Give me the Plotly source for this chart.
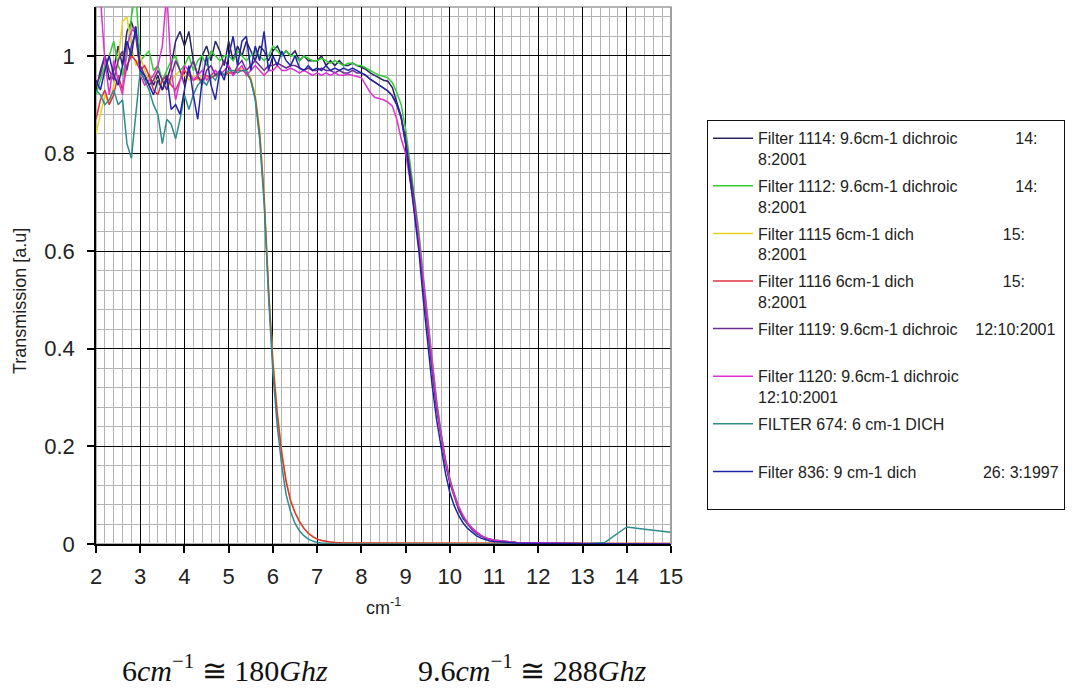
import plotly.graph_objects as go

# ---------------- data ----------------
wavenumber = [
    2.0, 2.1, 2.2, 2.3, 2.4, 2.5, 2.6, 2.7, 2.8, 2.9,
    3.0, 3.1, 3.2, 3.3, 3.4, 3.5, 3.6, 3.7, 3.8, 3.9,
    4.0, 4.1, 4.2, 4.3, 4.4, 4.5, 4.6, 4.7, 4.8, 4.9,
    5.0, 5.1, 5.2, 5.3, 5.4, 5.5, 5.6, 5.7, 5.8, 5.9,
    6.0, 6.1, 6.2, 6.3, 6.4, 6.5, 6.6, 6.7, 6.8, 6.9,
    7.0, 7.1, 7.2, 7.3, 7.4, 7.5, 7.6, 7.7, 7.8, 7.9,
    8.0, 8.1, 8.2, 8.3, 8.4, 8.5, 8.6, 8.7, 8.8, 8.9,
    9.0, 9.1, 9.2, 9.3, 9.4, 9.5, 9.6, 9.7, 9.8, 9.9,
    10.0, 10.1, 10.2, 10.3, 10.4, 10.5, 10.6, 10.7, 10.8, 10.9,
    11.0, 11.5, 12.0, 12.5, 13.0, 13.5, 14.0, 14.5, 15.0]

filter_1114 = [
    0.93, 0.97, 1.00, 0.95, 0.97, 1.02, 0.98, 1.05, 1.07, 1.04,
    0.97, 0.95, 0.96, 0.94, 0.96, 0.93, 0.95, 0.98, 1.03, 1.05,
    1.02, 1.05, 0.99, 0.96, 1.00, 1.02, 0.99, 1.03, 1.01, 0.98,
    1.03, 0.99, 1.02, 1.00, 1.03, 1.01, 0.99, 1.02, 1.01, 0.99,
    1.01, 1.02, 1.00, 1.01, 1.00, 1.01, 0.99, 1.00, 0.99, 0.99,
    0.99, 1.00, 0.98, 0.99, 0.98, 0.99, 0.98, 0.98, 0.985, 0.98,
    0.977, 0.972, 0.965, 0.96, 0.955, 0.95, 0.948, 0.935, 0.905, 0.876,
    0.82, 0.755, 0.69, 0.615, 0.53, 0.44, 0.36, 0.28, 0.22, 0.165,
    0.125, 0.095, 0.07, 0.052, 0.04, 0.03, 0.022, 0.016, 0.012, 0.009,
    0.007, 0.003, 0.002, 0.001, 0.001, 0.0, 0.0, 0.0, 0.0]

filter_1112 = [
    0.92, 0.95, 0.98, 1.00, 1.03, 0.98, 0.96, 1.00, 1.08, 1.13,
    0.99, 1.00, 1.01, 0.97, 0.98, 0.95, 0.97, 0.99, 1.00, 0.97,
    0.98, 1.00, 0.97, 0.99, 1.00, 0.98, 1.01, 1.00, 0.99, 1.00,
    1.00, 0.99, 1.01, 1.00, 0.99, 1.00, 1.01, 1.00, 0.99, 1.00,
    1.02, 1.01, 1.00, 1.01, 1.00, 1.00, 0.99, 1.00, 0.995, 0.99,
    0.99, 0.995, 0.99, 0.985, 0.99, 0.985, 0.98, 0.985, 0.985, 0.98,
    0.98, 0.975, 0.97, 0.965, 0.96, 0.958, 0.955, 0.945, 0.925, 0.9,
    0.85, 0.78, 0.715, 0.64, 0.55, 0.46, 0.37, 0.295, 0.23, 0.175,
    0.135, 0.1, 0.075, 0.056, 0.042, 0.032, 0.024, 0.017, 0.013, 0.01,
    0.008, 0.003, 0.002, 0.001, 0.001, 0.0, 0.0, 0.0, 0.0]

filter_1115 = [
    0.84, 0.88, 0.92, 0.90, 0.94, 0.99, 1.07, 1.08, 1.02, 0.98,
    1.00, 0.97, 0.95, 0.96, 0.94, 0.95, 0.93, 0.95, 0.96, 0.97,
    0.96, 0.95, 0.96, 0.95, 0.96, 0.955, 0.96, 0.965, 0.96, 0.965,
    0.965, 0.97, 0.97, 0.975, 0.97, 0.955, 0.92, 0.85, 0.72, 0.53,
    0.38, 0.27, 0.19, 0.13, 0.09, 0.065, 0.047, 0.033, 0.022, 0.015,
    0.01, 0.007, 0.005, 0.004, 0.003, 0.002, 0.002, 0.002, 0.002, 0.002,
    0.002, 0.002, 0.002, 0.002, 0.002, 0.002, 0.002, 0.002, 0.002, 0.002,
    0.002, 0.002, 0.002, 0.002, 0.002, 0.002, 0.002, 0.002, 0.002, 0.002,
    0.002, 0.002, 0.002, 0.002, 0.002, 0.002, 0.002, 0.002, 0.002, 0.002,
    0.002, 0.001, 0.001, 0.001, 0.001, 0.001, 0.001, 0.001, 0.001]

filter_1116 = [
    0.87, 0.91, 0.93, 0.90, 0.92, 0.96, 0.93, 0.98, 1.00, 0.99,
    0.97, 0.98, 0.96, 0.93, 0.92, 0.95, 0.96, 0.94, 0.93, 0.95,
    0.97, 0.96, 0.95, 0.955, 0.95, 0.96, 0.955, 0.96, 0.965, 0.96,
    0.965, 0.965, 0.97, 0.97, 0.965, 0.95, 0.915, 0.84, 0.71, 0.52,
    0.37, 0.265, 0.185, 0.127, 0.088, 0.064, 0.046, 0.032, 0.022, 0.015,
    0.01, 0.007, 0.005, 0.004, 0.003, 0.002, 0.002, 0.002, 0.002, 0.002,
    0.002, 0.002, 0.002, 0.002, 0.002, 0.002, 0.002, 0.002, 0.002, 0.002,
    0.002, 0.002, 0.002, 0.002, 0.002, 0.002, 0.002, 0.002, 0.002, 0.002,
    0.002, 0.002, 0.002, 0.002, 0.002, 0.002, 0.002, 0.002, 0.002, 0.002,
    0.002, 0.001, 0.001, 0.001, 0.001, 0.001, 0.001, 0.001, 0.001]

filter_1119 = [
    0.94, 0.96, 1.00, 0.97, 0.95, 0.99, 1.01, 0.97, 1.02, 1.05,
    0.98, 0.96, 0.94, 0.95, 0.97, 0.95, 0.93, 0.96, 0.99, 0.97,
    0.94, 0.97, 0.99, 0.96, 0.94, 0.97, 0.98, 0.96, 0.97, 0.99,
    0.98, 0.96, 0.98, 0.99, 0.97, 0.98, 0.99, 0.98, 0.97, 0.98,
    0.98, 0.985, 0.98, 0.975, 0.98, 0.98, 0.975, 0.97, 0.975, 0.97,
    0.97, 0.975, 0.97, 0.97, 0.965, 0.97, 0.965, 0.965, 0.97, 0.965,
    0.965, 0.96, 0.952, 0.946, 0.94, 0.934, 0.928, 0.918, 0.9, 0.875,
    0.83, 0.765, 0.70, 0.62, 0.53, 0.44, 0.355, 0.28, 0.22, 0.17,
    0.13, 0.1, 0.075, 0.056, 0.042, 0.031, 0.023, 0.017, 0.012, 0.009,
    0.007, 0.003, 0.002, 0.001, 0.001, 0.0, 0.0, 0.0, 0.0]

filter_1120 = [
    1.15, 1.12, 0.99, 0.92, 0.99, 0.95, 0.92, 1.02, 1.05, 1.06,
    0.96, 0.94, 0.95, 0.96, 0.98, 1.02, 1.13, 0.97, 0.91, 0.95,
    0.98, 0.97, 0.95, 0.96, 0.97, 0.95, 0.96, 0.97, 0.96, 0.97,
    0.98, 0.96, 0.97, 0.98, 0.96, 0.97, 0.98, 0.97, 0.96, 0.97,
    0.97, 0.98, 0.97, 0.97, 0.975, 0.97, 0.965, 0.97, 0.965, 0.96,
    0.965, 0.96, 0.965, 0.96, 0.965, 0.96, 0.96, 0.962, 0.96, 0.958,
    0.955, 0.94, 0.925, 0.915, 0.912, 0.91, 0.905, 0.897, 0.87, 0.83,
    0.80, 0.745, 0.69, 0.625, 0.54, 0.45, 0.365, 0.29, 0.225, 0.17,
    0.13, 0.1, 0.077, 0.058, 0.044, 0.033, 0.025, 0.018, 0.013, 0.01,
    0.008, 0.003, 0.002, 0.001, 0.001, 0.0, 0.0, 0.0, 0.0]

filter_674 = [
    0.93, 0.92, 0.90, 0.91, 0.93, 0.90, 0.91, 0.82, 0.79, 0.88,
    0.97, 0.95, 0.93, 0.90, 0.88, 0.82, 0.87, 0.86, 0.83, 0.87,
    0.92, 0.89, 0.92, 0.94, 0.95, 0.94, 0.96, 0.95, 0.97, 0.96,
    0.97, 0.97, 0.965, 0.97, 0.97, 0.95, 0.91, 0.83, 0.70, 0.51,
    0.35, 0.24, 0.16, 0.10, 0.066, 0.042, 0.027, 0.017, 0.01, 0.006,
    0.003, 0.002, 0.001, 0.001, 0.0, 0.0, 0.0, 0.0, 0.0, 0.0,
    0.0, 0.0, 0.0, 0.0, 0.0, 0.0, 0.0, 0.0, 0.0, 0.0,
    0.0, 0.0, 0.0, 0.0, 0.0, 0.0, 0.0, 0.0, 0.0, 0.0,
    0.0, 0.0, 0.0, 0.0, 0.0, 0.0, 0.0, 0.0, 0.0, 0.0,
    0.0, 0.0, 0.0, 0.0, 0.0, 0.003, 0.035, 0.029, 0.024]

filter_836 = [
    0.95, 0.93, 0.97, 1.00, 0.96, 0.94, 0.98, 1.03, 1.00, 1.06,
    0.97, 0.96, 0.94, 0.92, 0.95, 0.93, 0.96, 0.89, 0.90, 0.88,
    0.93, 0.98, 0.92, 0.87, 0.95, 1.00, 0.94, 0.91, 0.97, 0.95,
    1.00, 1.04, 0.98, 1.03, 1.04, 0.97, 1.02, 0.99, 1.05, 0.97,
    1.00, 0.98, 1.01, 0.99, 0.98, 1.00, 0.975, 0.97, 0.98, 0.97,
    0.975, 0.97, 0.98, 0.97, 0.975, 0.97, 0.975, 0.97, 0.975, 0.97,
    0.965, 0.96, 0.952, 0.946, 0.94, 0.934, 0.928, 0.918, 0.9, 0.872,
    0.82, 0.75, 0.68, 0.60, 0.50, 0.41, 0.325, 0.255, 0.195, 0.145,
    0.105, 0.078, 0.058, 0.043, 0.032, 0.024, 0.017, 0.012, 0.009, 0.006,
    0.005, 0.002, 0.001, 0.001, 0.0, 0.0, 0.0, 0.0, 0.0]

NB = "\u00a0"
series_names = [
    "Filter 1114: 9.6cm-1 dichroic" + NB * 13 + "14:<br>8:2001",
    "Filter 1112: 9.6cm-1 dichroic" + NB * 13 + "14:<br>8:2001",
    "Filter 1115 6cm-1 dich" + NB * 20 + "15:<br>8:2001",
    "Filter 1116 6cm-1 dich" + NB * 20 + "15:<br>8:2001",
    "Filter 1119: 9.6cm-1 dichroic" + NB * 4 + "12:10:2001<br>" + NB,
    "Filter 1120: 9.6cm-1 dichroic<br>12:10:2001",
    "FILTER 674: 6 cm-1 DICH<br>" + NB,
    "Filter 836: 9 cm-1 dich" + NB * 15 + "26: 3:1997<br>" + NB,
]
series_values = [filter_1114, filter_1112, filter_1115, filter_1116,
                 filter_1119, filter_1120, filter_674, filter_836]
series_colors = ["#262660", "#33cc33", "#e6d21e", "#e03040",
                 "#6b2c91", "#e030d0", "#2e8b8b", "#2323a8"]

x_tick_values = [2, 3, 4, 5, 6, 7, 8, 9, 10, 11, 12, 13, 14, 15]
y_title = "Transmission [a.u]"
x_title = "cm<sup>-1</sup>"
note_6 = "6<i>cm</i><sup>−1</sup> ≅ 180<i>Ghz</i>"
note_96 = "9.6<i>cm</i><sup>−1</sup> ≅ 288<i>Ghz</i>"

# ---------------- figure ----------------
SANS = "Liberation Sans, Arial, sans-serif"
SERIF = "Liberation Serif, Times New Roman, serif"

fig = go.Figure()
for i, (name, vals, col) in enumerate(zip(series_names, series_values, series_colors)):
    fig.add_trace(go.Scatter(
        x=wavenumber, y=vals, name=name, mode="lines",
        line=dict(color=col, width=1.5), legendgroup=f"g{i}"))

fig.update_layout(
    width=1081, height=691,
    margin=dict(l=96, r=410, t=7, b=147, autoexpand=False),
    paper_bgcolor="white", plot_bgcolor="white",
    font=dict(family=SANS, color="#222222"),
    showlegend=True,
    legend=dict(
        x=1.0626, y=0.789, xanchor="left", yanchor="top",
        bordercolor="#111111", borderwidth=1, bgcolor="white",
        font=dict(family=SANS, size=16, color="#222222"),
        valign="top", tracegroupgap=3, traceorder="grouped",
        itemwidth=40,
    ),
)

fig.update_xaxes(
    range=[2, 15], tickmode="array", tickvals=x_tick_values,
    showgrid=True, gridcolor="#000000", gridwidth=1,
    minor=dict(dtick=0.2, tick0=2, showgrid=True, gridcolor="#b4b4b4", gridwidth=1, ticks=""),
    showline=True, linecolor="#000000", linewidth=1.5,
    ticks="outside", ticklen=7, tickcolor="#000000", tickwidth=1.5,
    tickfont=dict(size=22, family=SANS, color="#222222"),
    ticklabelstandoff=5, zeroline=False,
)
fig.update_yaxes(
    range=[0, 1.1], tick0=0, dtick=0.2,
    showgrid=True, gridcolor="#000000", gridwidth=1,
    minor=dict(dtick=0.04, tick0=0, showgrid=True, gridcolor="#b4b4b4", gridwidth=1, ticks=""),
    showline=True, linecolor="#000000", linewidth=1.5,
    ticks="outside", ticklen=7, tickcolor="#000000", tickwidth=1.5,
    tickfont=dict(size=22, family=SANS, color="#222222"),
    ticklabelstandoff=8, zeroline=False,
)

# plot-area border (grey top, grey right edge as in the reference)
fig.add_shape(type="rect", xref="x domain", yref="y domain", x0=0, x1=1, y0=0, y1=1,
              line=dict(color="#9a9a9a", width=1.5), layer="below")
fig.add_shape(type="line", xref="x domain", yref="y domain", x0=1, x1=1, y0=0, y1=1,
              line=dict(color="#9a9a9a", width=1.5), layer="above")

fig.add_annotation(text=y_title, xref="paper", yref="paper", x=-0.132, y=0.4525,
                   textangle=-90, showarrow=False, xanchor="center", yanchor="middle",
                   font=dict(size=18, family=SANS, color="#222222"))
fig.add_annotation(text=x_title, xref="paper", yref="paper", x=0.5, y=-0.117,
                   showarrow=False, xanchor="center", yanchor="middle",
                   font=dict(size=18, family=SANS, color="#222222"))
fig.add_annotation(text=note_6, xref="paper", yref="paper", x=0.224, y=-0.231,
                   showarrow=False, xanchor="center", yanchor="middle",
                   font=dict(size=30, family=SERIF, color="#111111"))
fig.add_annotation(text=note_96, xref="paper", yref="paper", x=0.758, y=-0.231,
                   showarrow=False, xanchor="center", yanchor="middle",
                   font=dict(size=30, family=SERIF, color="#111111"))

fig.write_html("out.html")
